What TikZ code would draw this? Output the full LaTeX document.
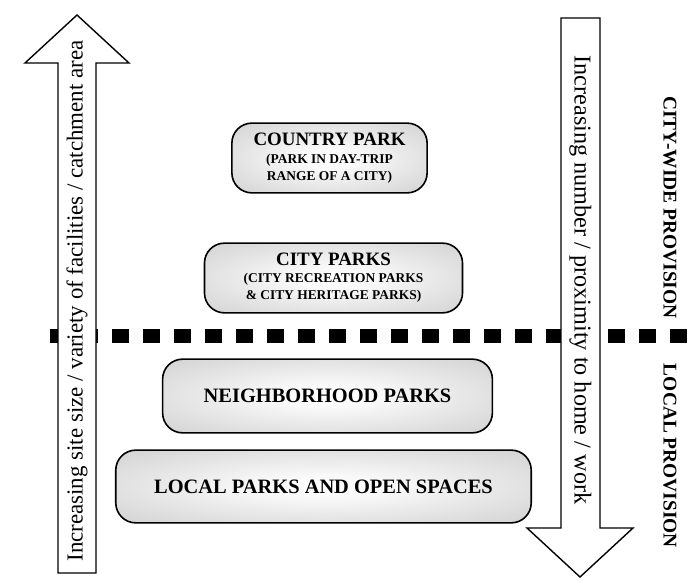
\documentclass[tikz,border=0pt]{standalone}
\usepackage{fontspec}
\setmainfont{Liberation Serif}
\pgfdeclareradialshading{parkshade}{\pgfpoint{0bp}{0bp}}{color(0bp)=(white); color(8bp)=(gray!5); color(40bp)=(gray!40); color(70bp)=(gray!70)}
\newcommand{\ttlfont}{\fontsize{19}{20}\selectfont\bfseries}
\newcommand{\bigttlfont}{\fontsize{20.5}{22}\selectfont\bfseries}
\newcommand{\subfont}{\fontsize{13.5}{16.5}\selectfont\bfseries}

\begin{document}
\begin{tikzpicture}[x=1bp,y=-1bp,
    park/.style={draw, line width=1.6bp, rounded corners=20bp, shade, shading=parkshade, align=center, inner sep=0pt},
    bigarrow/.style={draw, line width=1.4bp, fill=white, line join=miter},
    arrowtext/.style={font=\fontsize{23}{23}\selectfont},
    provtext/.style={font=\fontsize{19.5}{19.5}\selectfont\bfseries, rotate=-90}]
    \useasboundingbox (0,0) rectangle (694,587);

    % boundary between city-wide and local provision
    \foreach \x in {50,81,...,670} {
        \fill (\x,329) rectangle +(17,14);
    }

    % the two big arrows
    \draw[bigarrow] (58,573) -- (58,63) -- (25,63) -- (77,15) -- (129,63) -- (96,63) -- (96,573) -- cycle;
    \draw[bigarrow] (561,18) -- (600,18) -- (600,528) -- (633,528) -- (580,577) -- (527,528) -- (561,528) -- cycle;
    \node[arrowtext, rotate=90] (sizetext) at (77,301) {Increasing site size / variety of facilities / catchment area};
    \node[arrowtext, font=\fontsize{24.3}{24.3}\selectfont, rotate=-90] (numbertext) at (580.5,280) {Increasing number / proximity to home / work};

    % park levels
    \node[park, font=\ttlfont, minimum width=196, minimum height=70] (country) at (329.5,158)
        {COUNTRY PARK\\[-2pt] {\subfont (PARK IN DAY-TRIP}\\[-3pt] {\subfont RANGE OF A CITY)}};
    \node[park, font=\ttlfont, minimum width=259, minimum height=70] (city) at (333.5,278)
        {CITY PARKS\\[-3pt] {\subfont (CITY RECREATION PARKS}\\[-3pt] {\subfont \& CITY HERITAGE PARKS)}};
    \node[park, font=\bigttlfont, minimum width=331, minimum height=74] (neighbourhood) at (327.5,396) {NEIGHBORHOOD PARKS};
    \node[park, font=\bigttlfont, minimum width=417, minimum height=73] (local) at (323.5,486.5) {LOCAL PARKS AND OPEN SPACES};

    % provision labels
    \node[provtext] (citywide) at (670,207.5) {CITY-WIDE PROVISION};
    \node[provtext] (localprov) at (670,456) {LOCAL PROVISION};
\end{tikzpicture}
\end{document}
